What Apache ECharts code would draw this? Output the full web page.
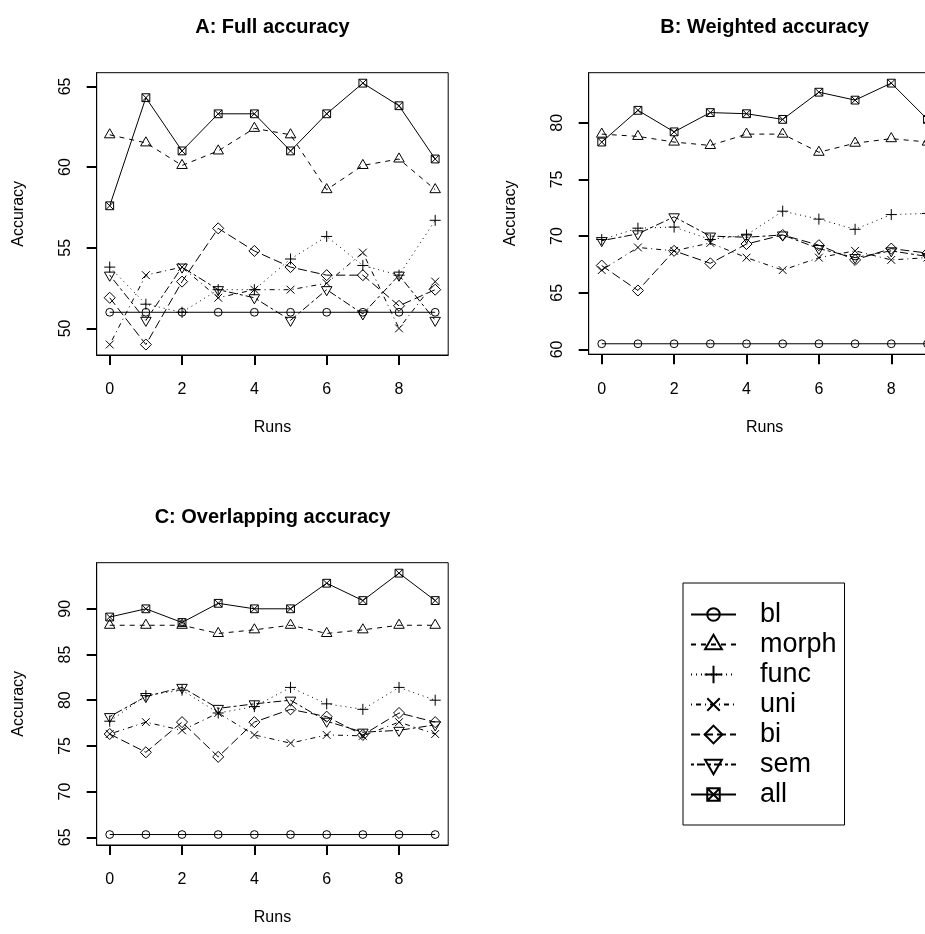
<!DOCTYPE html>
<html>
<head>
<meta charset="utf-8">
<title>Accuracy per run</title>
<script src="https://cdn.jsdelivr.net/npm/echarts@6/dist/echarts.min.js"></script>
<style>
  html, body { margin: 0; padding: 0; background: #fff; }
  #chart { width: 925px; height: 934px; }
</style>
</head>
<body>
<div id="chart"></div>
<script>
// Runs on the x axis and labelled ticks
const runs = [0, 1, 2, 3, 4, 5, 6, 7, 8, 9];
const runTicks = [0, 2, 4, 6, 8];
const seriesNames = ['bl', 'morph', 'func', 'uni', 'bi', 'sem', 'all'];

// A: Full accuracy
const fullBl    = [51.0, 51.0, 51.0, 51.0, 51.0, 51.0, 51.0, 51.0, 51.0, 51.0];
const fullMorph = [62.0, 61.5, 60.1, 61.0, 62.4, 62.0, 58.6, 60.1, 60.5, 58.6];
const fullFunc  = [53.8, 51.5, 51.0, 52.4, 52.4, 54.3, 55.7, 53.9, 53.3, 56.7];
const fullUni   = [49.0, 53.3, 53.8, 51.9, 52.4, 52.4, 52.8, 54.7, 50.0, 52.9];
const fullBi    = [51.9, 49.0, 52.9, 56.2, 54.8, 53.8, 53.3, 53.3, 51.4, 52.4];
const fullSem   = [53.3, 50.5, 53.8, 52.4, 51.9, 50.5, 52.4, 50.9, 53.3, 50.5];
const fullAll   = [57.6, 64.3, 61.0, 63.3, 63.3, 61.0, 63.3, 65.2, 63.8, 60.5];
const fullTicks = [50, 55, 60, 65];

// B: Weighted accuracy
const wBl    = [60.5, 60.5, 60.5, 60.5, 60.5, 60.5, 60.5, 60.5, 60.5, 60.5];
const wMorph = [79.0, 78.8, 78.3, 78.0, 79.0, 79.0, 77.4, 78.2, 78.6, 78.3];
const wFunc  = [69.7, 70.7, 70.8, 69.7, 70.1, 72.2, 71.5, 70.6, 71.9, 72.0];
const wUni   = [67.0, 69.0, 68.7, 69.4, 68.1, 67.0, 68.1, 68.7, 67.9, 68.1];
const wBi    = [67.4, 65.2, 68.7, 67.6, 69.3, 70.1, 69.2, 67.9, 68.9, 68.5];
const wSem   = [69.6, 70.2, 71.7, 70.0, 69.9, 70.1, 68.9, 68.1, 68.7, 68.2];
const wAll   = [78.3, 81.1, 79.2, 80.9, 80.8, 80.3, 82.7, 82.0, 83.5, 80.3];
const wTicks = [60, 65, 70, 75, 80];

// C: Overlapping accuracy
const oBl    = [65.3, 65.3, 65.3, 65.3, 65.3, 65.3, 65.3, 65.3, 65.3, 65.3];
const oMorph = [88.2, 88.2, 88.2, 87.3, 87.7, 88.2, 87.3, 87.7, 88.2, 88.2];
const oFunc  = [77.7, 80.5, 81.1, 78.6, 79.3, 81.4, 79.6, 79.0, 81.4, 80.0];
const oUni   = [76.3, 77.6, 76.7, 78.6, 76.2, 75.3, 76.2, 76.1, 77.6, 76.3];
const oBi    = [76.3, 74.3, 77.6, 73.8, 77.6, 79.0, 78.2, 76.2, 78.6, 77.6];
const oSem   = [78.2, 80.4, 81.4, 79.1, 79.6, 80.0, 77.7, 76.5, 76.7, 77.3];
const oAll   = [89.1, 90.0, 88.5, 90.6, 90.0, 90.0, 92.8, 90.9, 93.9, 90.9];
const oTicks = [65, 70, 75, 80, 85, 90];

const FONT = '"Liberation Sans", Arial, Helvetica, sans-serif';

// Plotting symbols drawn in a shared frame (+-16) so their relative sizes hold
const FRAME = 'M-16 -16 M16 16 ';
const symbols = {
  bl:    FRAME + 'M10 0 A10 10 0 1 1 -10 0 A10 10 0 1 1 10 0 Z',
  morph: FRAME + 'M0 -15.55 L13.47 7.78 L-13.47 7.78 Z',
  func:  FRAME + 'M-14.14 0 L14.14 0 M0 -14.14 L0 14.14',
  uni:   FRAME + 'M-10 -10 L10 10 M-10 10 L10 -10',
  bi:    FRAME + 'M0 -14.14 L14.14 0 L0 14.14 L-14.14 0 Z',
  sem:   FRAME + 'M0 15.55 L13.47 -7.78 L-13.47 -7.78 Z',
  all:   FRAME + 'M-10 -10 L10 -10 L10 10 L-10 10 Z M-10 -10 L10 10 M-10 10 L10 -10'
};
const dashes = {
  bl: 'solid',
  morph: [5, 5],
  func: [1, 4],
  uni: [1, 4, 5, 4],
  bi: [9, 4],
  sem: [3, 3, 8, 3],
  all: 'solid'
};

const panels = [
  { title: 'A: Full accuracy', ticks: fullTicks,
    values: [fullBl, fullMorph, fullFunc, fullUni, fullBi, fullSem, fullAll],
    grid: { left: 96.7, top: 72.7, width: 351.5, height: 282.3 } },
  { title: 'B: Weighted accuracy', ticks: wTicks,
    values: [wBl, wMorph, wFunc, wUni, wBi, wSem, wAll],
    grid: { left: 588.7, top: 72.7, width: 351.8, height: 281.5 } },
  { title: 'C: Overlapping accuracy', ticks: oTicks,
    values: [oBl, oMorph, oFunc, oUni, oBi, oSem, oAll],
    grid: { left: 96.7, top: 562.7, width: 351.5, height: 282.3 } }
];

// Axis range padded by 4% on both sides of the data
function paddedRange(arrays) {
  const flat = [].concat(...arrays);
  const lo = Math.min(...flat), hi = Math.max(...flat);
  const pad = 0.04 * (hi - lo);
  return [lo - pad, hi + pad];
}
const xPad = 0.04 * (runs[runs.length - 1] - runs[0]);

const grids = [], xAxes = [], yAxes = [], series = [], graphics = [];
panels.forEach((p, i) => {
  grids.push(Object.assign({
    show: true, borderColor: '#000', borderWidth: 1, backgroundColor: 'transparent',
    containLabel: false, outerBoundsMode: 'none'
  }, p.grid));
  const axisText = () => ({ color: '#000', fontSize: 16, fontFamily: FONT });
  xAxes.push({
    type: 'value', gridIndex: i, position: 'bottom',
    min: runs[0] - xPad, max: runs[runs.length - 1] + xPad,
    axisLine: { show: true, onZero: false, lineStyle: { color: '#000', width: 1 } },
    axisTick: { show: true, length: 10, customValues: runTicks, lineStyle: { color: '#000', width: 2 } },
    axisLabel: Object.assign({ customValues: runTicks, margin: 27 }, axisText()),
    splitLine: { show: false },
    name: 'Runs', nameLocation: 'middle', nameGap: 65, nameTextStyle: axisText()
  });
  const [ymin, ymax] = paddedRange(p.values);
  yAxes.push({
    type: 'value', gridIndex: i, position: 'left', min: ymin, max: ymax,
    axisLine: { show: true, onZero: false, lineStyle: { color: '#000', width: 1 } },
    axisTick: { show: true, length: 10, customValues: p.ticks, lineStyle: { color: '#000', width: 2 } },
    axisLabel: Object.assign({ customValues: p.ticks, margin: 23, rotate: 90 }, axisText()),
    splitLine: { show: false },
    name: 'Accuracy', nameLocation: 'middle', nameGap: 70, nameTextStyle: axisText()
  });
  seriesNames.forEach((name, k) => {
    series.push({
      type: 'line', name: name, xAxisIndex: i, yAxisIndex: i,
      data: runs.map((r, j) => [r, p.values[k][j]]),
      symbol: 'path://' + symbols[name], symbolSize: 12.5, showSymbol: true,
      lineStyle: { color: '#000', width: 1, type: dashes[name] },
      itemStyle: { color: 'rgba(0,0,0,0)', borderColor: '#000', borderWidth: 1 },
      emphasis: { disabled: true },
      silent: true, animation: false, clip: false
    });
  });
  const g = p.grid;
  graphics.push({
    type: 'text', x: g.left + g.width / 2, y: g.top - 45,
    style: { text: p.title, fill: '#000', font: 'bold 20px ' + FONT,
             textAlign: 'center', align: 'center', textVerticalAlign: 'middle', verticalAlign: 'middle' }
  });
});

const chart = echarts.init(document.getElementById('chart'), null, { renderer: 'canvas' });
chart.setOption({
  animation: false,
  backgroundColor: '#fff',
  grid: grids,
  xAxis: xAxes,
  yAxis: yAxes,
  series: series,
  graphic: graphics,
  legend: {
    data: seriesNames, orient: 'vertical', left: 683, top: 583,
    itemWidth: 45, itemHeight: 25, itemGap: 3,
    padding: [18, 8, 17, 7],
    borderColor: '#000', borderWidth: 1, backgroundColor: '#fff',
    selectedMode: false,
    textStyle: { fontSize: 27, color: '#000', fontFamily: FONT, lineHeight: 25, padding: [0, 0, 0, 19] }
  }
});
</script>
</body>
</html>
